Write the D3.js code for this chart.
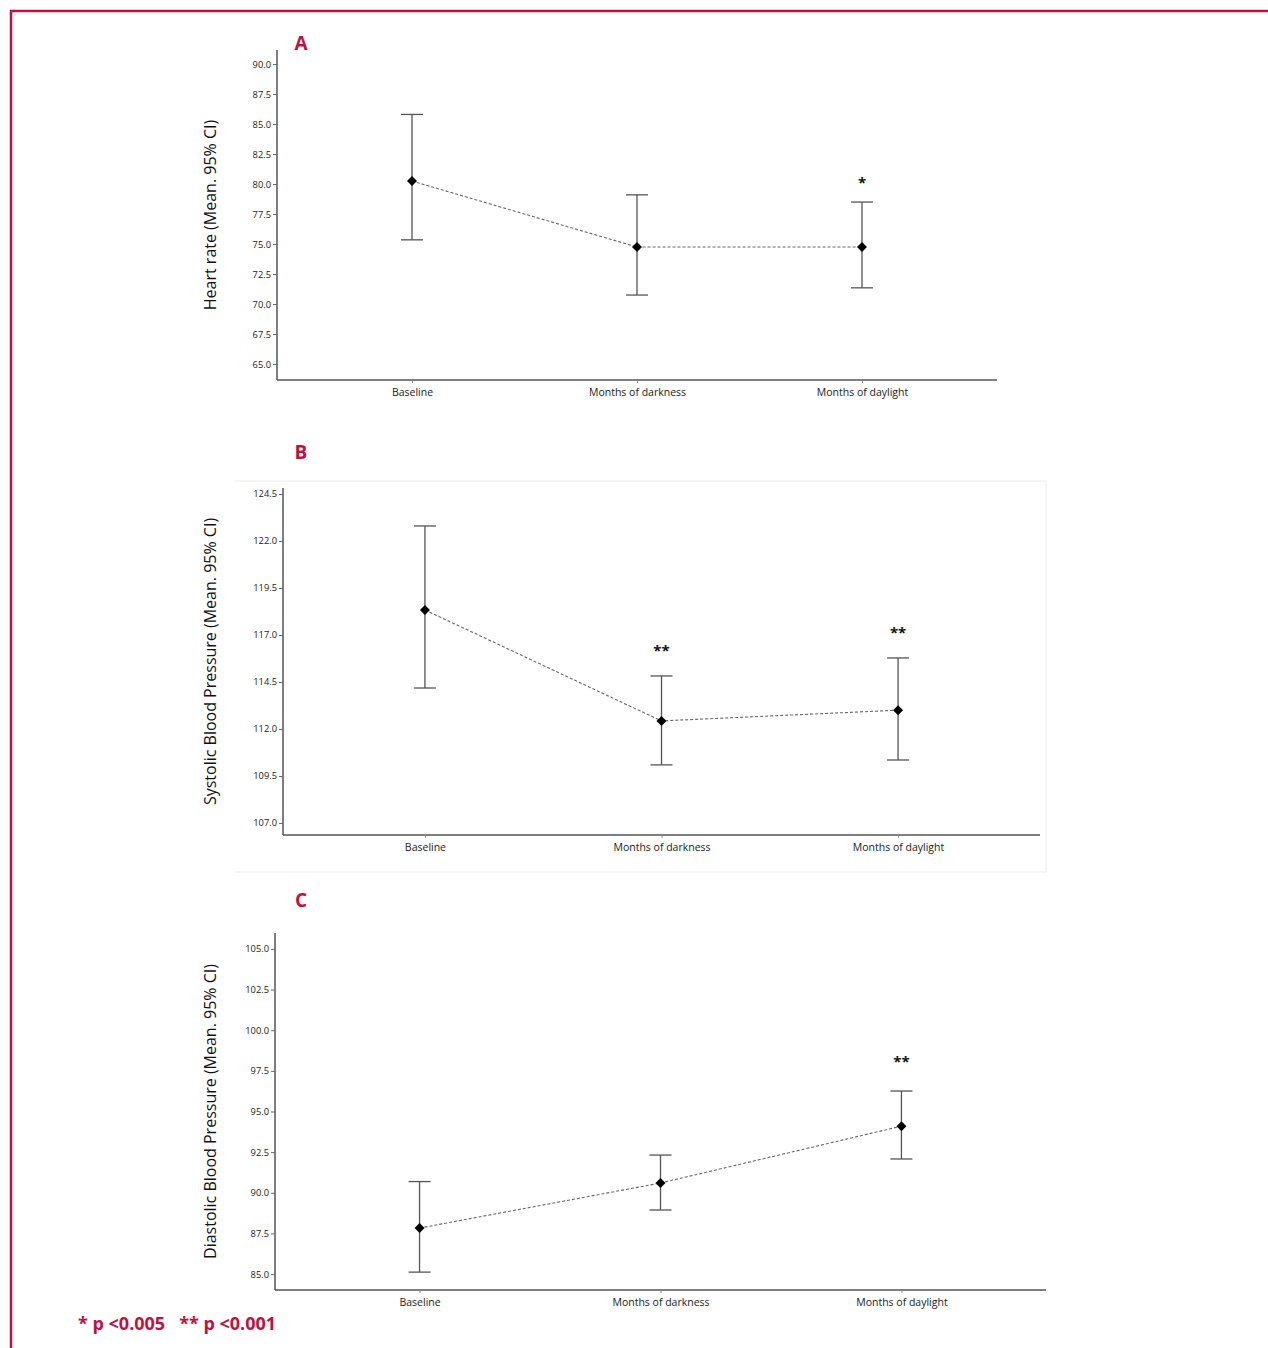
<!DOCTYPE html>
<html><head><meta charset="utf-8">
<script src="https://cdn.jsdelivr.net/npm/d3@7"></script>
<style>
body{margin:0;background:#fff;}
svg{display:block;font-family:"Open Sans","Noto Sans",sans-serif;}
</style></head>
<body><svg id="c" width="1268" height="1348"></svg>
<script>
const categories = ["Baseline","Months of darkness","Months of daylight"];

// Panel A: Heart rate
const hrMean  = [80.25, 74.75, 74.75];
const hrLower = [75.35, 70.75, 71.35];
const hrUpper = [85.8, 79.1, 78.5];
const hrSig   = ["", "", "*"];
const hrTicks = [65.0,67.5,70.0,72.5,75.0,77.5,80.0,82.5,85.0,87.5,90.0];

// Panel B: Systolic
const sbpMean  = [118.33, 112.43, 113.0];
const sbpLower = [114.18, 110.09, 110.35];
const sbpUpper = [122.8, 114.82, 115.78];
const sbpSig   = ["", "**", "**"];
const sbpTicks = [107.0,109.5,112.0,114.5,117.0,119.5,122.0,124.5];

// Panel C: Diastolic
const dbpMean  = [87.83, 90.6, 94.1];
const dbpLower = [85.12, 88.94, 92.08];
const dbpUpper = [90.69, 92.32, 96.26];
const dbpSig   = ["", "", "**"];
const dbpTicks = [85.0,87.5,90.0,92.5,95.0,97.5,100.0,102.5,105.0];

const crimson = "#c0123f";
const svg = d3.select("#c");

// outer border
svg.append("line").attr("x1",10).attr("x2",1268).attr("y1",11).attr("y2",11).attr("stroke",crimson).attr("stroke-width",2.5);
svg.append("line").attr("x1",11).attr("x2",11).attr("y1",10).attr("y2",1348).attr("stroke",crimson).attr("stroke-width",2.5);

const panels = [
  {label:"A", lx:301, ly:50, title:"Heart rate (Mean. 95% CI)", tx:212,
   x0:277, x1:997, yTop:50, yBot:380, dom:[63.67,91.17], ticks:hrTicks, sigOff:14,
   mean:hrMean, lo:hrLower, hi:hrUpper, sig:hrSig},
  {label:"B", lx:301, ly:459, title:"Systolic Blood Pressure (Mean. 95% CI)", tx:212,
   x0:283, x1:1040, yTop:488, yBot:835, dom:[106.36,124.82], ticks:sbpTicks, sigOff:20,
   mean:sbpMean, lo:sbpLower, hi:sbpUpper, sig:sbpSig, frame:true},
  {label:"C", lx:301, ly:907, title:"Diastolic Blood Pressure (Mean. 95% CI)", tx:212,
   x0:275, x1:1046, yTop:933, yBot:1290, dom:[84.02,105.98], ticks:dbpTicks, sigOff:24,
   mean:dbpMean, lo:dbpLower, hi:dbpUpper, sig:dbpSig}
];

panels.forEach(p => {
  const g = svg.append("g");
  if (p.frame) {
    g.append("path").attr("d",`M235,481H1046V872H235`).attr("fill","none").attr("stroke","#ececec").attr("stroke-width",1);
  }
  const x = d3.scalePoint().domain(categories).range([p.x0,p.x1]).padding(0.6);
  const y = d3.scaleLinear().domain(p.dom).range([p.yBot,p.yTop]);

  // y axis
  const ya = g.append("g").attr("transform",`translate(${p.x0},0)`)
    .call(d3.axisLeft(y).tickValues(p.ticks).tickFormat(d3.format(".1f")).tickSize(4).tickPadding(2));
  ya.select(".domain").attr("stroke","#555").attr("stroke-width",1.5).attr("d",`M0,${p.yTop}V${p.yBot}`);
  ya.selectAll(".tick line").attr("stroke","#666");
  ya.selectAll(".tick text").attr("font-size",9.3).attr("fill","#1a1a1a").attr("font-family","'Open Sans',sans-serif");

  // x axis
  const xa = g.append("g").attr("transform",`translate(0,${p.yBot})`)
    .call(d3.axisBottom(x).tickSize(3).tickPadding(6));
  xa.select(".domain").attr("stroke","#555").attr("stroke-width",1.5).attr("d",`M${p.x0},0H${p.x1}`);
  xa.selectAll(".tick line").attr("stroke","#888");
  xa.selectAll(".tick text").attr("font-size",10.5).attr("fill","#1a1a1a").attr("font-family","'Open Sans',sans-serif");

  // y title
  g.append("text").attr("transform",`translate(${p.tx},${(p.yTop+p.yBot)/2}) rotate(-90)`)
    .attr("text-anchor","middle").attr("dominant-baseline","middle")
    .attr("font-size",16).attr("fill","#111").text(p.title);

  // panel label
  g.append("text").attr("x",p.lx).attr("y",p.ly).attr("text-anchor","middle")
    .attr("font-size",19).attr("font-weight","bold").attr("fill",crimson).text(p.label);

  const pts = categories.map((c,i)=>({c, m:p.mean[i], lo:p.lo[i], hi:p.hi[i], s:p.sig[i]}));

  // dashed line
  g.append("path").datum(pts)
    .attr("d", d3.line().x(d=>x(d.c)).y(d=>y(d.m)))
    .attr("fill","none").attr("stroke","#666").attr("stroke-width",1.1).attr("stroke-dasharray","3,2");

  // error bars
  const eb = g.selectAll(".eb").data(pts).enter().append("g");
  eb.append("line").attr("x1",d=>x(d.c)).attr("x2",d=>x(d.c)).attr("y1",d=>y(d.lo)).attr("y2",d=>y(d.hi))
    .attr("stroke","#555").attr("stroke-width",1.3);
  eb.append("line").attr("x1",d=>x(d.c)-11).attr("x2",d=>x(d.c)+11).attr("y1",d=>y(d.hi)).attr("y2",d=>y(d.hi))
    .attr("stroke","#555").attr("stroke-width",1.3);
  eb.append("line").attr("x1",d=>x(d.c)-11).attr("x2",d=>x(d.c)+11).attr("y1",d=>y(d.lo)).attr("y2",d=>y(d.lo))
    .attr("stroke","#555").attr("stroke-width",1.3);

  // diamonds
  g.selectAll(".pt").data(pts).enter().append("path")
    .attr("transform",d=>`translate(${x(d.c)},${y(d.m)})`)
    .attr("d","M0,-5L5,0L0,5L-5,0Z").attr("fill","#000");

  // significance
  g.selectAll(".sig").data(pts.filter(d=>d.s)).enter().append("text")
    .attr("x",d=>x(d.c)).attr("y",d=>y(d.hi)-p.sigOff).attr("text-anchor","middle")
    .attr("font-size",15).attr("font-weight","bold").attr("fill","#111").text(d=>d.s);
});

// footnote
svg.append("text").attr("x",78).attr("y",1330).attr("font-size",18).attr("font-weight","bold")
  .attr("fill",crimson).attr("xml:space","preserve").text("* p <0.005   ** p <0.001");
</script></body></html>
